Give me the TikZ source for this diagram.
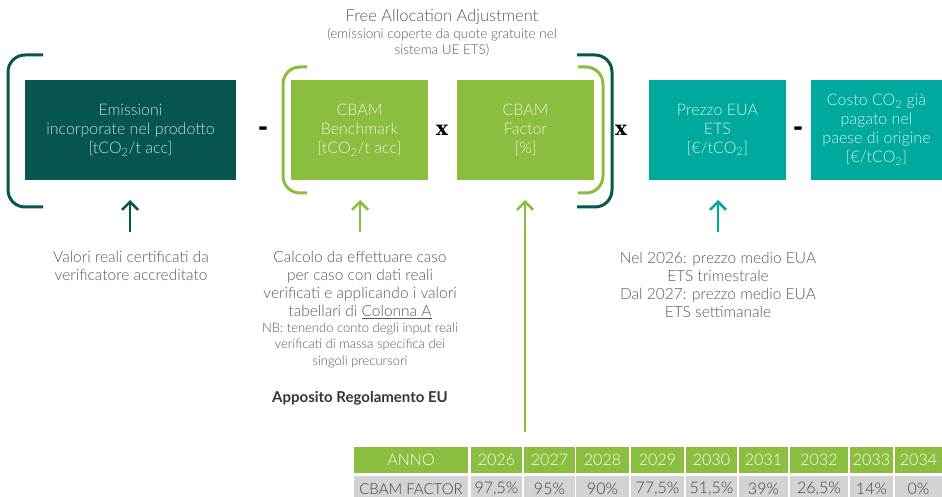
\documentclass[tikz,border=0pt]{standalone}
\usepackage{fontspec}
\setmainfont{Lato}[UprightFont={* Light}, BoldFont={* Bold}]
\newfontfamily\opfont{DejaVu Serif}
\newfontfamily\minfont{DejaVu Sans}
\usetikzlibrary{arrows.meta}
\definecolor{dkteal}{HTML}{06564F}
\definecolor{cgreen}{HTML}{8BBD3F}
\definecolor{cteal}{HTML}{00A99D}
\definecolor{txtgray}{HTML}{58595B}
\definecolor{cellgray}{HTML}{D1D3D4}
\newcommand{\sub}[1]{\textsubscript{#1}}
\begin{document}
\begin{tikzpicture}[x=1pt,y=-1pt,
  box/.style={rectangle, minimum height=100pt, inner sep=0pt, align=center,
    font=\fontsize{16}{19}\selectfont},
  bracket/.style={line width=3pt, rounded corners=17pt},
  op/.style={inner sep=0pt, font=\opfont\bfseries\fontsize{20}{20}\selectfont},
  opm/.style={inner sep=0pt, font=\minfont\bfseries\fontsize{24}{24}\selectfont},
  note/.style={align=center, text=txtgray, inner sep=0pt, font=\fontsize{15.5}{17.8}\selectfont},
  small/.style={align=center, text=txtgray, inner sep=0pt, font=\fontsize{13}{16.5}\selectfont},
  uparrow/.style={line width=2.5pt, -{Straight Barb[width=16pt,length=8pt]}},
  cell/.style={rectangle, inner sep=0pt, minimum height=26pt, font=\fontsize{16}{16}\selectfont},
  hcell/.style={cell, fill=cgreen, text=white},
  gcell/.style={cell, fill=cellgray, text=txtgray!75!black}
]
\useasboundingbox (0,0) rectangle (942,497);
\clip (0,0) rectangle (942,497);
\fill[white] (0,0) rectangle (942,497);

% title
\node[text=txtgray, inner sep=0pt, font=\fontsize{16.5}{16.5}\selectfont] (title) at (442,17) {Free Allocation Adjustment};
\node[small, font=\fontsize{13.5}{16}\selectfont] (subtitle) at (442,42) {(emissioni coperte da quote gratuite nel\\sistema UE ETS)};

% boxes
\node[box, fill=dkteal, text=white!78!dkteal, minimum width=211pt] (b1) at (130.5,130)
  {Emissioni\\incorporate nel prodotto\\{}[tCO\sub{2}/t acc]};
\node[box, fill=cgreen, text=white!82!cgreen, minimum width=137pt] (b2) at (359.5,130)
  {CBAM\\Benchmark\\{}[tCO\sub{2}/t acc]};
\node[box, fill=cgreen, text=white!82!cgreen, minimum width=137pt] (b3) at (525.5,130)
  {CBAM\\Factor\\{}[\%]};
\node[box, fill=cteal, text=white!82!cteal, minimum width=137pt] (b4) at (717.5,130)
  {Prezzo EUA\\ETS\\{}[€/tCO\sub{2}]};
\node[box, fill=cteal, text=white!82!cteal, minimum width=131pt] (b5) at (876.5,130)
  {Costo CO\sub{2} già\\pagato nel\\paese di origine\\{}[€/tCO\sub{2}]};

% operators
\node[opm] (m1) at (263,131) {-};
\node[op] (x1) at (442,130) {x};
\node[op] (x2) at (621,130) {x};
\node[opm] (m2) at (798,131) {-};

% brackets
\draw[bracket, dkteal] (43,55) -- (8,55) -- (8,207) -- (43,207);
\draw[bracket, cgreen] (307,67) -- (283,67) -- (283,193) -- (307,193);
\draw[bracket, cgreen] (578,67) -- (603,67) -- (603,193) -- (578,193);
\draw[bracket, dkteal] (577,55) -- (612,55) -- (612,207) -- (577,207);

% notes
\node[note] (n1) at (131,266) {Valori reali certificati da\\verificatore accreditato};
\node[note] (n2) at (360,285) {Calcolo da effettuare caso\\per caso con dati reali\\verificati e applicando i valori\\tabellari di \underline{Colonna A}};
\node[small] (n2b) at (360,345) {NB: tenendo conto degli input reali\\verificati di massa specifica dei\\singoli precursori};
\node[text=txtgray!60!black, inner sep=0pt, font=\bfseries\fontsize{15}{15}\selectfont] (n2c) at (360,398) {Apposito Regolamento EU};
\node[note] (n4) at (718,285) {Nel 2026: prezzo medio EUA\\ETS trimestrale\\Dal 2027: prezzo medio EUA\\ETS settimanale};

% arrows
\coordinate (a1s) at (130,232); \coordinate (a1e) at (130,200);
\coordinate (a2s) at (360,232); \coordinate (a2e) at (360,200);
\coordinate (a3s) at (525,432); \coordinate (a3e) at (525,200);
\coordinate (a4s) at (718,232); \coordinate (a4e) at (718,200);
\draw[uparrow, dkteal] (a1s) -- (a1e);
\draw[uparrow, cgreen] (a2s) -- (a2e);
\draw[uparrow, cgreen] (a3s) -- (a3e);
\draw[uparrow, cteal] (a4s) -- (a4e);

% table
\node[hcell, minimum width=114pt] (h0) at (411,460) {ANNO};
\node[gcell, minimum width=114pt, font=\fontsize{15}{15}\selectfont] (g0) at (411,489) {CBAM FACTOR};
\foreach \i/\l/\r/\y/\v in {1/471/522/2026/97{,}5\%, 2/524/575/2027/95\%, 3/576/629/2028/90\%,
  4/631/684/2029/77{,}5\%, 5/686/737/2030/51{,}5\%, 6/739/788/2031/39\%, 7/790/848/2032/26{,}5\%,
  8/850/893/2033/14\%, 9/895/942/2034/0\%}{
  \node[hcell, minimum width={\r-\l}] (h\i) at ({(\l+\r)/2},460) {\y};
  \node[gcell, minimum width={\r-\l}] (g\i) at ({(\l+\r)/2},489) {\v};
}
\end{tikzpicture}
\end{document}
